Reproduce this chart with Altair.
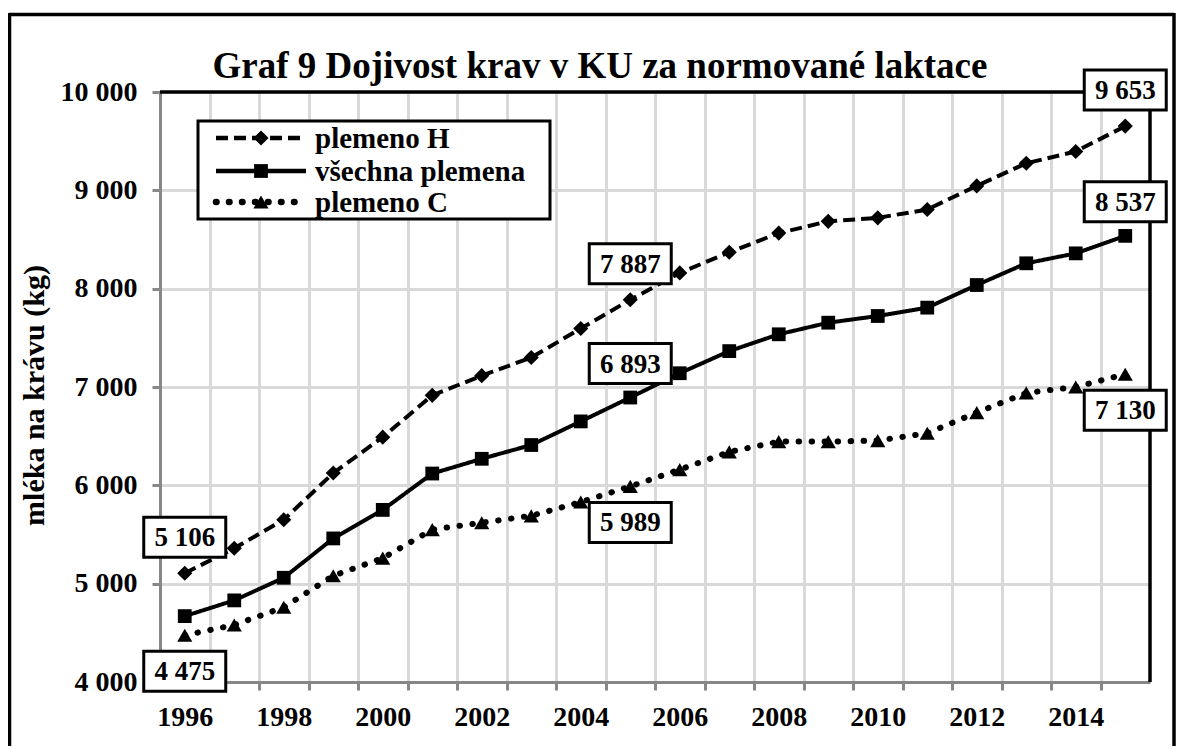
import altair as alt
import pandas as pd

# ---------------- data ----------------
years = list(range(1996, 2016))
series_names = ["plemeno H", "všechna plemena", "plemeno C"]
plemeno_h = [5106, 5360, 5650, 6125, 6490, 6915, 7115, 7300, 7595, 7887,
             8160, 8370, 8565, 8685, 8720, 8805, 9045, 9275, 9395, 9653]
vsechna_plemena = [4670, 4830, 5060, 5460, 5750, 6120, 6270, 6410, 6650, 6893,
                   7140, 7365, 7536, 7654, 7722, 7807, 8037, 8258, 8359, 8537]
plemeno_c = [4475, 4580, 4760, 5080, 5260, 5550, 5620, 5690, 5830, 5989,
             6160, 6340, 6445, 6445, 6455, 6530, 6740, 6940, 7000, 7130]
# years that carry a boxed value label, per series
label_years_h = [1996, 2005, 2015]
label_years_all = [2005, 2015]
label_years_c = [1996, 2005, 2015]
y_ticks = [4000, 5000, 6000, 7000, 8000, 9000, 10000]
x_ticks = list(range(1996, 2017))

title_text = "Graf 9 Dojivost krav v KU za normované laktace"
y_title = "mléka na krávu (kg)"

# ---------------- tables ----------------
values_by_series = [plemeno_h, vsechna_plemena, plemeno_c]
label_years_by_series = [label_years_h, label_years_all, label_years_c]
rows = []
for name, vals, lyrs in zip(series_names, values_by_series, label_years_by_series):
    for yr, v in zip(years, vals):
        rows.append({"rok": yr, "serie": name, "mleko": v,
                     "popisek": f"{v:,}".replace(",", " "),
                     "oznacit": yr in lyrs})
df = pd.DataFrame(rows)
lab = df[df["oznacit"]].drop(columns=["oznacit"])
df = df.drop(columns=["oznacit"])
one = pd.DataFrame({"k": [0]})

FONT = "Liberation Serif"
W, H = 990, 590
band = W / len(years)

x_enc = alt.X(
    "rok:Q",
    scale=alt.Scale(domain=[years[0] - 0.5, years[-1] + 0.5], nice=False, zero=False),
    axis=alt.Axis(values=x_ticks, tickOffset=-band / 2, labelOffset=band / 2,
                  format="d",
                  labelExpr="datum.value % 2 == 0 && datum.value < 2016 ? datum.label : ''",
                  title=None, grid=True, labelPadding=13),
)
y_enc = alt.Y(
    "mleko:Q",
    scale=alt.Scale(domain=[4000, 10000], nice=False, zero=False),
    axis=alt.Axis(values=y_ticks, format=",d",
                  labelExpr="replace(datum.label, ',', ' ')",
                  title=y_title, titleX=-126, titleY=303, titleAngle=-90,
                  titleBaseline="middle", titleFont=FONT, titleFontSize=30,
                  titleFontWeight="bold", titleColor="black",
                  grid=True, labelPadding=15),
)

styles = {
    "plemeno H": dict(dash=[12, 6], cap="butt", width=4, shape="diamond", size=230),
    "všechna plemena": dict(dash=[1, 0], cap="butt", width=4, shape="square", size=190),
    "plemeno C": dict(dash=[0.5, 12.5], cap="round", width=6, shape="triangle-up", size=230),
}

layers = []

# outer frame (top, left, right)
layers.append(alt.Chart(one).mark_rule(color="black", strokeWidth=3.5).encode(
    x=alt.value(-151), x2=alt.value(1014), y=alt.value(-77.5)))
layers.append(alt.Chart(one).mark_rule(color="black", strokeWidth=3.5).encode(
    x=alt.value(-150.5), y=alt.value(-79), y2=alt.value(680)))
layers.append(alt.Chart(one).mark_rule(color="black", strokeWidth=3.5).encode(
    x=alt.value(1014), y=alt.value(-79), y2=alt.value(680)))

# plot-area border (top and right in black)
layers.append(alt.Chart(one).mark_rule(color="black", strokeWidth=3.5).encode(
    x=alt.value(0), x2=alt.value(W), y=alt.value(0)))
layers.append(alt.Chart(one).mark_rule(color="black", strokeWidth=3.5).encode(
    x=alt.value(W), y=alt.value(0), y2=alt.value(H)))

# series lines and markers
for name in series_names:
    st = styles[name]
    base = alt.Chart(df).transform_filter(alt.datum.serie == name)
    layers.append(base.mark_line(color="black", strokeWidth=st["width"],
                                 strokeDash=st["dash"], strokeCap=st["cap"]).encode(
        x=x_enc, y=y_enc))
    layers.append(base.mark_point(shape=st["shape"], size=st["size"], filled=True,
                                  color="black", opacity=1).encode(x=x_enc, y=y_enc))

# legend (drawn by hand to show line style + marker)
layers.append(alt.Chart(one).mark_rect(fill="white", stroke="black", strokeWidth=3).encode(
    x=alt.value(38), x2=alt.value(390), y=alt.value(29), y2=alt.value(127)))
legend_y = [46, 79, 110]
for name, ly in zip(series_names, legend_y):
    st = styles[name]
    layers.append(alt.Chart(one).mark_rule(color="black", strokeWidth=st["width"] + 0.5,
                                           strokeDash=st["dash"], strokeCap=st["cap"]).encode(
        x=alt.value(56), x2=alt.value(146), y=alt.value(ly)))
    layers.append(alt.Chart(one).mark_point(shape=st["shape"], size=st["size"], filled=True,
                                            color="black", opacity=1).encode(
        x=alt.value(101), y=alt.value(ly)))
    layers.append(alt.Chart(one).mark_text(font=FONT, fontSize=29, fontWeight="bold",
                                           align="left", baseline="middle", color="black").encode(
        x=alt.value(155), y=alt.value(ly + 1), text=alt.value(name)))

# data labels in boxes
box_shape = "M-1,-0.4878H1V0.4878H-1Z"
offsets = {"plemeno H": -36, "všechna plemena": -34, "plemeno C": 36}
for name in series_names:
    b = alt.Chart(lab).transform_filter(alt.datum.serie == name)
    layers.append(b.mark_point(shape=box_shape, size=82 * 82, filled=True, fill="white",
                               stroke="black", strokeWidth=3, opacity=1,
                               yOffset=offsets[name]).encode(x=x_enc, y=y_enc))
    layers.append(b.mark_text(font=FONT, fontSize=27, fontWeight="bold", color="black",
                              baseline="middle", align="center",
                              yOffset=offsets[name] + 1).encode(
        x=x_enc, y=y_enc, text="popisek:N"))

# chart title
layers.append(alt.Chart(one).mark_text(font=FONT, fontSize=37, fontWeight="bold",
                                       align="center", baseline="alphabetic",
                                       color="black").encode(
    x=alt.value(440), y=alt.value(-14), text=alt.value(title_text)))

chart = alt.layer(*layers).properties(
    width=W, height=H,
    autosize=alt.AutoSizeParams(type="none"),
    padding={"left": 152, "top": 84, "right": 26, "bottom": 64},
    background="white",
).configure_view(stroke=None).configure_axis(
    domainColor="#878787", domainWidth=3, tickColor="#878787", tickWidth=3, tickSize=8,
    gridColor="#d9d9d9", gridWidth=3,
    labelFont=FONT, labelFontSize=28, labelFontWeight="bold", labelColor="black",
)

chart.save("out.html", embed_options={"renderer": "svg", "actions": False})
